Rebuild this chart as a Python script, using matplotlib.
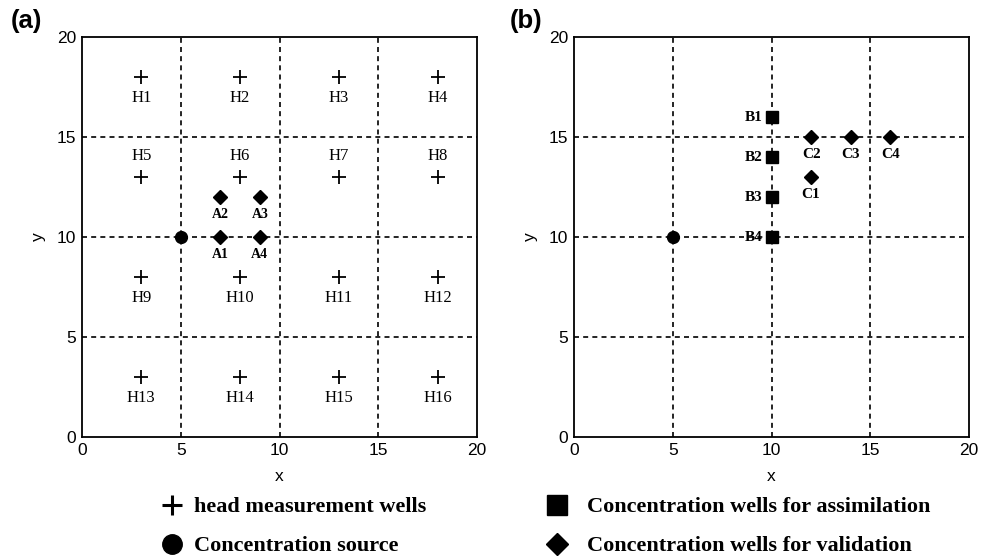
import matplotlib.pyplot as plt
from matplotlib.lines import Line2D

# head wells
head_x = [3, 8, 13, 18] * 4
head_y = [18] * 4 + [13] * 4 + [8] * 4 + [3] * 4
head_names = ["H%d" % (i + 1) for i in range(16)]

source_x, source_y = [5], [10]

a_x = [7, 7, 9, 9]
a_y = [10, 12, 12, 10]
a_names = ["A1", "A2", "A3", "A4"]

b_x = [10, 10, 10, 10]
b_y = [16, 14, 12, 10]
b_names = ["B1", "B2", "B3", "B4"]

c_x = [12, 12, 14, 16]
c_y = [13, 15, 15, 15]
c_names = ["C1", "C2", "C3", "C4"]

grid_vals = [5, 10, 15]
ticks = [0, 5, 10, 15, 20]

SERIF = "Liberation Serif"
SANS = "Liberation Sans"

fig = plt.figure(figsize=(9.94, 5.57), dpi=100)
ax_a = fig.add_axes([0.0825, 0.2154, 0.3975, 0.718])
ax_b = fig.add_axes([0.5775, 0.2154, 0.3975, 0.718])


def setup(ax):
    ax.set_xlim(0, 20)
    ax.set_ylim(0, 20)
    ax.set_xticks(ticks)
    ax.set_yticks(ticks)
    ax.tick_params(length=0, labelsize=12.5, pad=4)
    for lab in ax.get_xticklabels() + ax.get_yticklabels():
        lab.set_family(SANS)
    for v in grid_vals:
        ax.axhline(v, color="black", ls=(0, (3, 2.5)), lw=1.2, zorder=1)
        ax.axvline(v, color="black", ls=(0, (3, 2.5)), lw=1.2, zorder=1)
    for s in ax.spines.values():
        s.set_linewidth(1.3)
    ax.set_xlabel("x", family=SANS, fontsize=12.5, labelpad=8)
    ax.set_ylabel("y", family=SANS, fontsize=12.5, labelpad=8)


setup(ax_a)
setup(ax_b)

# panel (a)
ax_a.plot(head_x, head_y, "+", color="black", ms=10, mew=1.3, zorder=3)
for x, y, n in zip(head_x, head_y, head_names):
    dy = 1.05 if y == 13 else -1.05
    ax_a.text(x, y + dy, n, ha="center", va="center", family=SERIF, fontsize=12)
ax_a.plot(source_x, source_y, "o", color="black", ms=8.5, zorder=3)
ax_a.plot(a_x, a_y, "D", color="black", ms=7, zorder=3)
for x, y, n in zip(a_x, a_y, a_names):
    ax_a.text(x, y - 0.85, n, ha="center", va="center", family=SERIF,
              fontsize=10, fontweight="bold")

# panel (b)
ax_b.plot(source_x, source_y, "o", color="black", ms=8.5, zorder=3)
ax_b.plot(b_x, b_y, "s", color="black", ms=8, zorder=3)
for x, y, n in zip(b_x, b_y, b_names):
    ax_b.text(x - 0.45, y, n, ha="right", va="center", family=SERIF,
              fontsize=11, fontweight="bold")
ax_b.plot(c_x, c_y, "D", color="black", ms=7, zorder=3)
for x, y, n in zip(c_x, c_y, c_names):
    ax_b.text(x, y - 0.85, n, ha="center", va="center", family=SERIF,
              fontsize=11, fontweight="bold")

fig.text(0.011, 0.962, "(a)", family=SANS, fontsize=18.5, fontweight="bold", va="center")
fig.text(0.513, 0.962, "(b)", family=SANS, fontsize=18.5, fontweight="bold", va="center")

# legend, two columns drawn as two legends
prop = {"family": SERIF, "weight": "bold", "size": 16}
h_head = Line2D([], [], ls="none", marker="+", color="black", ms=14, mew=2.2)
h_src = Line2D([], [], ls="none", marker="o", color="black", ms=14)
h_asm = Line2D([], [], ls="none", marker="s", color="black", ms=14)
h_val = Line2D([], [], ls="none", marker="D", color="black", ms=11)

fig.legend([h_head, h_src], ["head measurement wells", "Concentration source"],
           loc="lower left", bbox_to_anchor=(0.1529, -0.015), borderaxespad=0,
           frameon=False, handlelength=1.0, handletextpad=0.5,
           labelspacing=0.83, prop=prop)
fig.legend([h_asm, h_val],
           ["Concentration wells for assimilation", "Concentration wells for validation"],
           loc="lower left", bbox_to_anchor=(0.5402, -0.015), borderaxespad=0,
           frameon=False, handlelength=1.0, handletextpad=0.85,
           labelspacing=0.83, prop=prop)

fig.savefig("out.png", dpi=100)
